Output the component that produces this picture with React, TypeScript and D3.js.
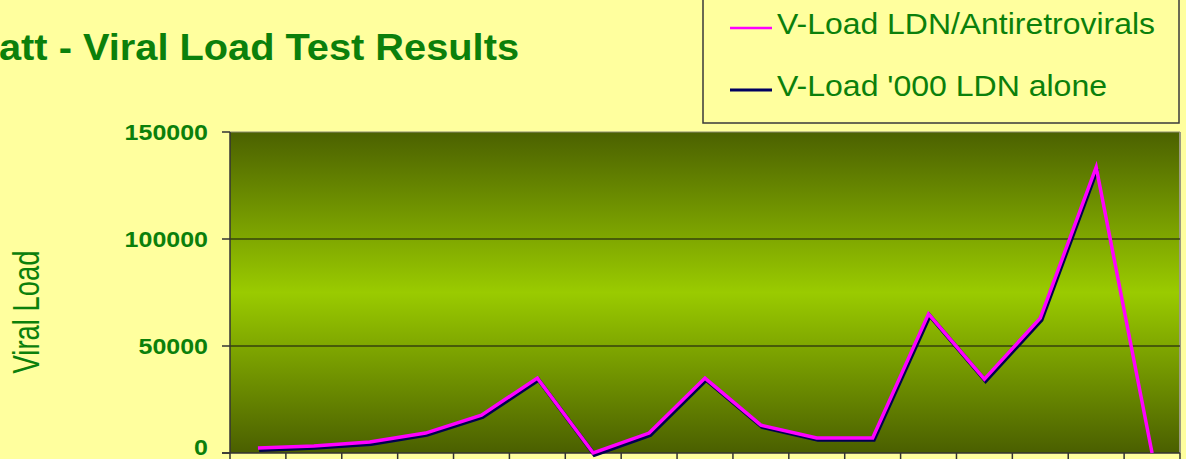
import React from "react";
import * as d3 from "d3";

const categories = ["1","2","3","4","5","6","7","8","9","10","11","12","13","14","15","16","17"];
const ldnAntiretrovirals = [2300, 3300, 5100, 9300, 17700, 35000, 0, 9300, 35000, 13000, 7000, 7000, 65000, 34500, 63000, 133600, 0];
const ldnAlone = [2300, 3300, 5100, 9300, 17700, 35000, 0, 9300, 35000, 13000, 7000, 7000, 65000, 34500, 63000, 133600];
const yTicks = [0, 50000, 100000, 150000];
const seriesNames = ["V-Load LDN/Antiretrovirals", "V-Load '000 LDN alone"];
const titleText = "att - Viral Load Test Results";
const yTitle = "Viral Load";

const W = 1186, H = 459;
const M = { left: 230, right: 1180, top: 132, bottom: 453 };
const GREEN = "#0b800b";

export default function App() {
  const x = d3.scaleBand<string>().domain(categories).range([M.left, M.right]).padding(0);
  const y = d3.scaleLinear().domain([0, 150000]).range([M.bottom, M.top]);
  const cx = (i: number) => (x(categories[i]) as number) + x.bandwidth() / 2;
  const line = d3.line<number>().x((_, i) => cx(i)).y((d) => y(d));

  return (
    <div style={{ position: "fixed", left: 0, top: 0, width: W, height: H, background: "#ffff9e" }}>
      <svg width={W} height={H} style={{ display: "block", fontFamily: "'Liberation Sans', Arial, sans-serif" }}>
        <defs>
          <linearGradient id="plotGrad" x1="0" y1="0" x2="0" y2="1">
            <stop offset="0%" stopColor="#4b6100" />
            <stop offset="50%" stopColor="#9acb00" />
            <stop offset="100%" stopColor="#4a5f00" />
          </linearGradient>
        </defs>
        <rect x={0} y={0} width={W} height={H} fill="#ffff9e" />

        {/* title */}
        <text x={-1} y={60} fontSize={36} fontWeight="bold" fill={GREEN} textLength={520} lengthAdjust="spacingAndGlyphs">{titleText}</text>

        {/* legend */}
        <rect x={703} y={-5} width={476} height={128} fill="#ffff9e" stroke="#3a3a3a" strokeWidth={1.5} />
        <line x1={730} x2={772} y1={28} y2={28} stroke="#ff00ff" strokeWidth={2.5} />
        <text x={777} y={34} fontSize={30} fill={GREEN} textLength={378} lengthAdjust="spacingAndGlyphs">{seriesNames[0]}</text>
        <line x1={730} x2={772} y1={90} y2={90} stroke="#000060" strokeWidth={3} />
        <text x={777} y={96} fontSize={30} fill={GREEN} textLength={330} lengthAdjust="spacingAndGlyphs">{seriesNames[1]}</text>

        {/* plot area */}
        <rect x={M.left} y={M.top} width={M.right - M.left} height={M.bottom - M.top} fill="url(#plotGrad)" />
        <line x1={M.right} x2={M.right} y1={M.top} y2={M.bottom} stroke="#9a9a80" strokeWidth={2} />
        <line x1={M.left} x2={M.right} y1={M.top} y2={M.top} stroke="#8a8a70" strokeWidth={1} />

        {yTicks.filter((t) => t > 0 && t < 150000).map((t) => (
          <line key={"g" + t} x1={M.left} x2={M.right} y1={y(t)} y2={y(t)} stroke="#111" strokeWidth={1.2} />
        ))}

        {/* axes */}
        <line x1={M.left} x2={M.left} y1={M.top} y2={M.bottom} stroke="#333" strokeWidth={1.5} />
        <line x1={M.left - 8} x2={M.right} y1={M.bottom} y2={M.bottom} stroke="#333" strokeWidth={1.5} />
        {yTicks.map((t) => (
          <g key={"t" + t}>
            <line x1={M.left - 8} x2={M.left} y1={y(t)} y2={y(t)} stroke="#333" strokeWidth={1.5} />
            <text x={208} y={Math.min(y(t) + 7.5, 455)} fontSize={22} fontWeight="bold" fill={GREEN} textAnchor="end"
              textLength={String(t).length * 13.9} lengthAdjust="spacingAndGlyphs">{t}</text>
          </g>
        ))}
        {categories.concat(["end"]).map((c, i) => {
          const xx = M.left + i * x.bandwidth();
          return <line key={"xt" + i} x1={xx} x2={xx} y1={M.bottom} y2={M.bottom + 10} stroke="#333" strokeWidth={1.5} />;
        })}

        <text transform={`translate(39, 312) rotate(-90)`} fontSize={36} fill={GREEN} textAnchor="middle"
          textLength={123} lengthAdjust="spacingAndGlyphs">{yTitle}</text>

        {/* series */}
        <path d={line(ldnAlone) || ""} fill="none" stroke="#000050" strokeWidth={4} strokeLinejoin="miter"
          transform="translate(1.2,1.8)" />
        <path d={line(ldnAntiretrovirals) || ""} fill="none" stroke="#ff00ff" strokeWidth={3.5} strokeLinejoin="miter" />
      </svg>
    </div>
  );
}
